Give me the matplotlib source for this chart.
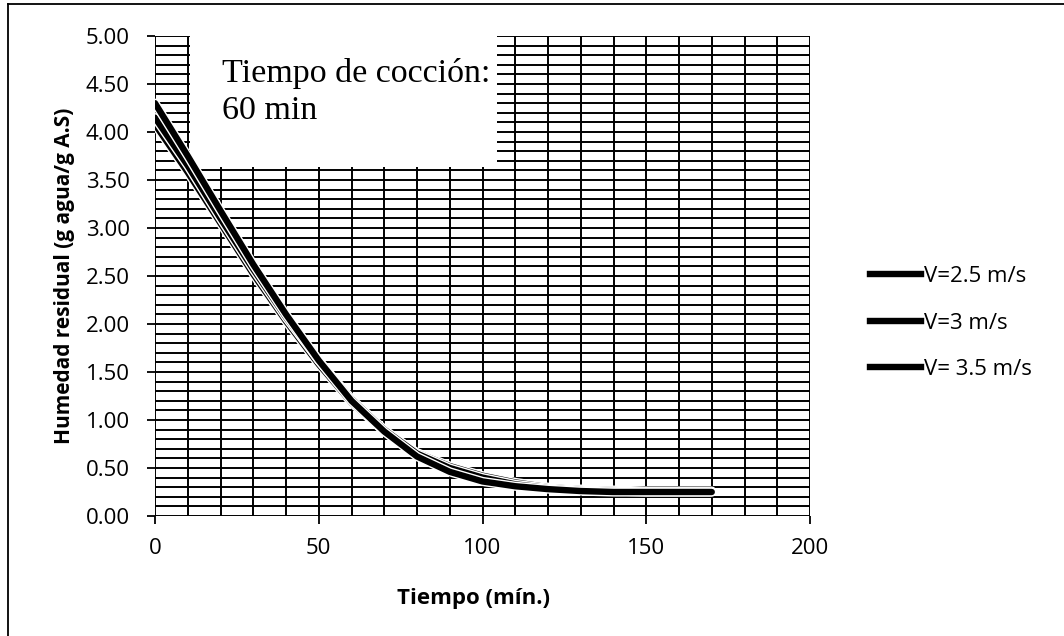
import matplotlib
matplotlib.use("Agg")
import matplotlib.pyplot as plt
import matplotlib.patheffects as pe
from matplotlib.patches import Rectangle
from matplotlib.lines import Line2D

# Drying curves: residual moisture vs time for three air velocities
tiempo = [0, 10, 20, 30, 40, 50, 60, 70, 80, 90, 100, 110, 120, 130, 140, 150, 160, 170]
v25 = [4.30, 3.75, 3.18, 2.62, 2.10, 1.62, 1.20, 0.88, 0.62, 0.46, 0.36, 0.31, 0.28, 0.26, 0.25, 0.25, 0.25, 0.25]
v30 = [4.15, 3.65, 3.10, 2.57, 2.07, 1.62, 1.22, 0.90, 0.65, 0.50, 0.40, 0.33, 0.29, 0.27, 0.26, 0.25, 0.25, 0.25]
v35 = [4.08, 3.58, 3.05, 2.52, 2.03, 1.58, 1.18, 0.88, 0.66, 0.52, 0.42, 0.35, 0.30, 0.28, 0.27, 0.26, 0.26, 0.26]
etiquetas = ["V=2.5 m/s", "V=3 m/s", "V= 3.5 m/s"]

yticks = [0.0, 0.5, 1.0, 1.5, 2.0, 2.5, 3.0, 3.5, 4.0, 4.5, 5.0]
xticks = [0, 50, 100, 150, 200]

sans = ["Open Sans", "DejaVu Sans"]
fs = 16

fig = plt.figure(figsize=(10.64, 6.36), dpi=100)
ax = fig.add_axes([155 / 1064, 1 - 516 / 636, 655 / 1064, 480 / 636])

ax.set_xlim(0, 200)
ax.set_ylim(0, 5)

# dense black grid
for x in range(0, 201, 10):
    ax.axvline(x, color="black", lw=1.4, zorder=1)
for i in range(0, 51):
    ax.axhline(i / 10, color="black", lw=1.4, zorder=1)

for s in ax.spines.values():
    s.set_visible(False)

ax.set_xticks(xticks)
ax.set_yticks(yticks)
ax.set_xticklabels([str(t) for t in xticks], fontsize=fs, family=sans)
ax.set_yticklabels([f"{t:.2f}" for t in yticks], fontsize=fs, family=sans)
ax.tick_params(axis="both", length=6, width=1.3, color="black", direction="out")
ax.tick_params(axis="y", pad=12)
ax.tick_params(axis="x", pad=10)

ax.set_xlabel("Tiempo (mín.)", fontsize=16, fontweight="bold", family=sans)
ax.xaxis.set_label_coords(0.486, -0.150)
ax.set_ylabel("Humedad residual (g agua/g A.S)", fontsize=15, fontweight="bold", family=sans, labelpad=8)

# annotation box
ax.add_patch(Rectangle((0.053, 0.727), 0.469, 0.273, transform=ax.transAxes,
                       facecolor="white", edgecolor="none", zorder=2))
ax.text(0.102, 0.904, "Tiempo de cocción:", transform=ax.transAxes,
        ha="left", va="baseline", fontsize=24.5, family="Liberation Serif", zorder=3)
ax.text(0.102, 0.827, "60 min", transform=ax.transAxes,
        ha="left", va="baseline", fontsize=24.5, family="Liberation Serif", zorder=3)

effects = [pe.Stroke(linewidth=6.6, foreground="white"), pe.Normal()]
for serie in (v35, v30, v25):
    ax.plot(tiempo, serie, color="black", lw=4.6, solid_capstyle="round",
            solid_joinstyle="round", path_effects=effects, zorder=4)

handles = [Line2D([0], [0], color="black", lw=4.6) for _ in etiquetas]
fig.legend(handles, etiquetas, loc="upper left", bbox_to_anchor=(850 / 1064, 1 - 246 / 636),
           frameon=False, prop={"family": sans, "size": fs},
           handlelength=2.3, handletextpad=0.12, labelspacing=1.15)

# outer frame edges
fig.add_artist(Line2D([8 / 1064, 1.0], [1 - 4 / 636, 1 - 4 / 636], transform=fig.transFigure,
                      color="black", lw=1.3))
fig.add_artist(Line2D([8 / 1064, 8 / 1064], [0.0, 1 - 4 / 636], transform=fig.transFigure,
                      color="black", lw=1.3))

fig.savefig("out.png", dpi=100)
